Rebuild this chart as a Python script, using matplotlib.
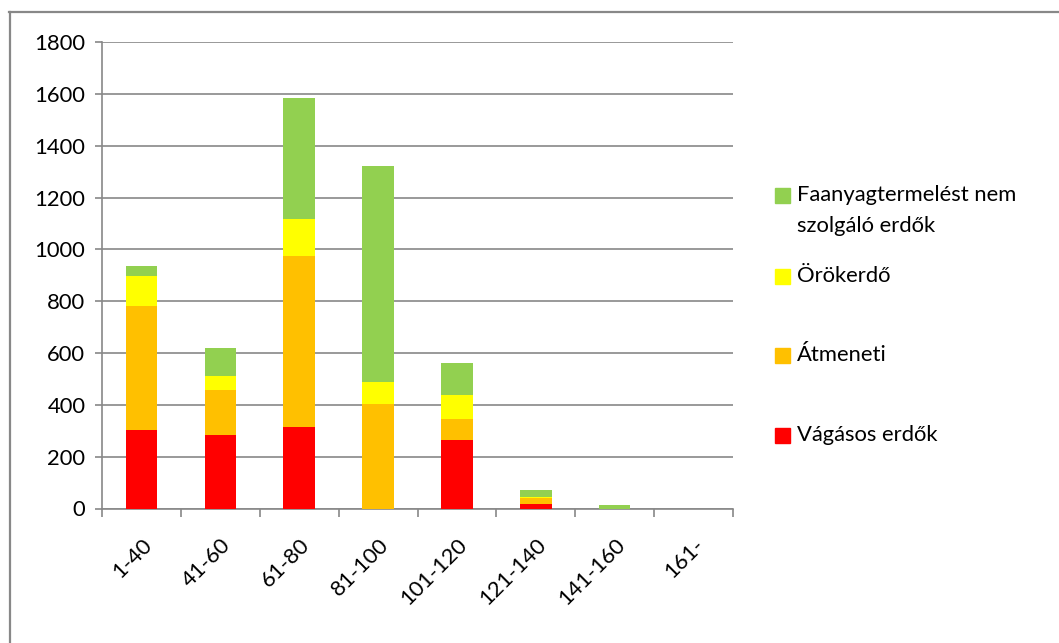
import numpy as np
import matplotlib
matplotlib.use("Agg")
import matplotlib.pyplot as plt
from matplotlib.patches import Rectangle
from matplotlib.lines import Line2D

plt.rcParams["font.family"] = ["Lato", "DejaVu Sans"]

# age classes (years) and area per management type
categories = ["1-40", "41-60", "61-80", "81-100", "101-120", "121-140", "141-160", "161-"]
vagasos = [302, 283, 314, 0, 264, 19, 0, 0]
atmeneti = [480, 175, 661, 402, 81, 22, 0, 0]
orokerdo = [114, 55, 141, 88, 92, 3, 0, 0]
faanyag = [39, 108, 468, 832, 125, 28, 13, 0]

series = [
    ("Vágásos erdők", vagasos, "#FF0000"),
    ("Átmeneti", atmeneti, "#FFC000"),
    ("Örökerdő", orokerdo, "#FFFF00"),
    ("Faanyagtermelést nem\nszolgáló erdők", faanyag, "#92D050"),
]

W, H = 1059, 643
GRAY = "#888888"
FS = 15.8

fig = plt.figure(figsize=(W / 100, H / 100), dpi=100)
ax = fig.add_axes([102 / W, (H - 508.5) / H, 631 / W, (508.5 - 42) / H])

x = np.arange(len(categories))
bottom = np.zeros(len(categories))
for name, vals, col in series:
    ax.bar(x, vals, width=0.4, bottom=bottom, color=col, linewidth=0, zorder=3)
    bottom += np.array(vals)

ax.set_xlim(-0.5, len(categories) - 0.5)
ax.set_ylim(0, 1800)
ax.set_yticks(np.arange(0, 1801, 200))
ax.yaxis.grid(True, color=GRAY, linewidth=1.2, zorder=0)
ax.set_axisbelow(True)

for s in ("top", "right"):
    ax.spines[s].set_visible(False)
for s in ("left", "bottom"):
    ax.spines[s].set_color(GRAY)
    ax.spines[s].set_linewidth(1.2)

ax.tick_params(axis="y", length=5, color=GRAY, width=1.2, pad=7, labelsize=FS)
ax.set_xticks(x)
ax.set_xticklabels(categories, rotation=45, ha="right", rotation_mode="anchor",
                   fontsize=FS)
ax.tick_params(axis="x", which="major", length=0, pad=19)
ax.set_xticks(np.arange(-0.5, len(categories)), minor=True)
ax.tick_params(axis="x", which="minor", length=6, color=GRAY, width=1.2)

# legend drawn by hand (Excel spreads the entries over the plot height)
leg = [
    ("#92D050", [(195, "Faanyagtermelést nem"), (226, "szolgáló erdők")]),
    ("#FFFF00", [(276, "Örökerdő")]),
    ("#FFC000", [(355, "Átmeneti")]),
    ("#FF0000", [(435, "Vágásos erdők")]),
]
for col, lines in leg:
    yc = lines[0][0]
    fig.patches.append(Rectangle((775 / W, (H - yc - 7.5) / H), 15 / W, 15 / H,
                                 transform=fig.transFigure, color=col))
    for yy, txt in lines:
        fig.text(797 / W, (H - yy) / H, txt, fontsize=FS, va="center", ha="left")

# chart area border (top and left edges visible)
fig.add_artist(Line2D([9.5 / W, 9.5 / W], [0, (H - 12) / H], color=GRAY, linewidth=1.6,
                      transform=fig.transFigure))
fig.add_artist(Line2D([9 / W, 1], [(H - 12) / H, (H - 12) / H], color=GRAY, linewidth=1.6,
                      transform=fig.transFigure))

fig.savefig("out.png", dpi=100)
